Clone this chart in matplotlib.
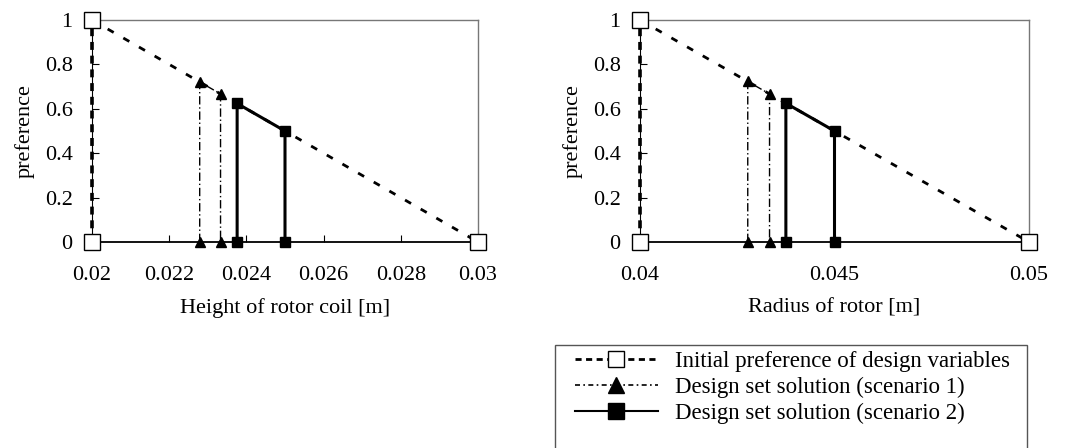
import matplotlib
matplotlib.use("Agg")
import matplotlib.pyplot as plt
from matplotlib.lines import Line2D
from matplotlib.patches import Rectangle
from matplotlib.ticker import FuncFormatter

plt.rcParams["font.family"] = ["Liberation Serif", "DejaVu Serif"]
plt.rcParams["font.size"] = 16

# ---- data ----
# left panel: height of rotor coil [m]
coil_init_x = [0.02, 0.02, 0.03]
coil_init_y = [0.0, 1.0, 0.0]
coil_s1_x = [0.02279, 0.02279, 0.02333, 0.02333]
coil_s1_y = [0.0, 0.721, 0.667, 0.0]
coil_s2_x = [0.02376, 0.02376, 0.0250, 0.0250]
coil_s2_y = [0.0, 0.624, 0.50, 0.0]
coil_ticks = [0.02, 0.022, 0.024, 0.026, 0.028, 0.03]

# right panel: radius of rotor [m]
rad_init_x = [0.04, 0.04, 0.05]
rad_init_y = [0.0, 1.0, 0.0]
rad_s1_x = [0.04277, 0.04277, 0.04333, 0.04333]
rad_s1_y = [0.0, 0.723, 0.667, 0.0]
rad_s2_x = [0.04375, 0.04375, 0.0450, 0.0450]
rad_s2_y = [0.0, 0.625, 0.50, 0.0]
rad_ticks = [0.04, 0.045, 0.05]

pref_ticks = [0, 0.2, 0.4, 0.6, 0.8, 1.0]

legend_labels = [
    "Initial preference of design variables",
    "Design set solution (scenario 1)",
    "Design set solution (scenario 2)",
]

W, H = 1066, 448


def draw_panel(ax, ix, iy, s1x, s1y, s2x, s2y, xticks, xlabel):
    # initial preference: dense dashes on the vertical, sparser on the slope
    ax.plot(ix[:2], iy[:2], color="black", lw=2.6, dashes=(2.2, 1.6),
            clip_on=False, zorder=3)
    ax.plot(ix[1:], iy[1:], color="black", lw=2.0, dashes=(2.5, 4.0),
            clip_on=False, zorder=3)
    ax.plot(ix, iy, ls="none", marker="s", ms=12, mfc="white",
            mec="black", mew=1.0, clip_on=False, zorder=6)
    # scenario 1
    ax.plot(s1x, s1y, color="black", lw=1.0, dashes=(6, 2, 1, 2),
            marker="^", ms=7.5, mfc="black", mec="black",
            clip_on=False, zorder=4)
    # scenario 2
    ax.plot(s2x, s2y, color="black", lw=2.2, marker="s", ms=7.5,
            mfc="black", mec="black", clip_on=False, zorder=5)

    ax.set_xlim(xticks[0], xticks[-1])
    ax.set_ylim(0, 1)
    ax.set_xticks(xticks)
    ax.set_yticks(pref_ticks)
    ax.xaxis.set_major_formatter(FuncFormatter(lambda v, p: f"{v:g}"))
    ax.yaxis.set_major_formatter(FuncFormatter(lambda v, p: f"{v:g}"))
    ax.tick_params(axis="both", direction="in", length=5, width=0.8,
                   labelsize=16, colors="black")
    ax.tick_params(axis="x", pad=17)
    ax.tick_params(axis="y", pad=14)
    for s in ("top", "right"):
        ax.spines[s].set_color("#777777")
        ax.spines[s].set_linewidth(1.0)
    ax.spines["left"].set_linewidth(0.8)
    ax.spines["bottom"].set_linewidth(1.3)
    ax.set_xlabel(xlabel, fontsize=16, labelpad=10)
    ax.set_ylabel("preference", fontsize=16, labelpad=7)


fig = plt.figure(figsize=(W / 100, H / 100), dpi=100)
ax1 = fig.add_axes([92 / W, 1 - 242 / H, 386 / W, 222 / H])
ax2 = fig.add_axes([640 / W, 1 - 242 / H, 389 / W, 222 / H])

draw_panel(ax1, coil_init_x, coil_init_y, coil_s1_x, coil_s1_y,
           coil_s2_x, coil_s2_y, coil_ticks, "Height of rotor coil [m]")
draw_panel(ax2, rad_init_x, rad_init_y, rad_s1_x, rad_s1_y,
           rad_s2_x, rad_s2_y, rad_ticks, "Radius of rotor [m]")

handles = [
    Line2D([], [], color="black", lw=2.0, dashes=(2.2, 1.6), marker="s",
           ms=12, mfc="white", mec="black", mew=1.0),
    Line2D([], [], color="black", lw=1.2, dashes=(3, 2, 1, 2), marker="^",
           ms=12, mfc="black", mec="black"),
    Line2D([], [], color="black", lw=1.5, marker="s", ms=11,
           mfc="black", mec="black"),
]
fig.legend(handles, legend_labels, loc="upper left",
           bbox_to_anchor=(575 / W, 1 - 351 / H), frameon=False,
           fontsize=16.5, handlelength=3.6, handletextpad=0.75,
           labelspacing=0.2, borderpad=0.0, borderaxespad=0.0)
fig.patches.append(Rectangle((555 / W, -0.05), 472 / W, 0.05 + (H - 345) / H,
                             transform=fig.transFigure, fill=False,
                             edgecolor="#555555", lw=1.0))

fig.savefig("out.png", dpi=100)
